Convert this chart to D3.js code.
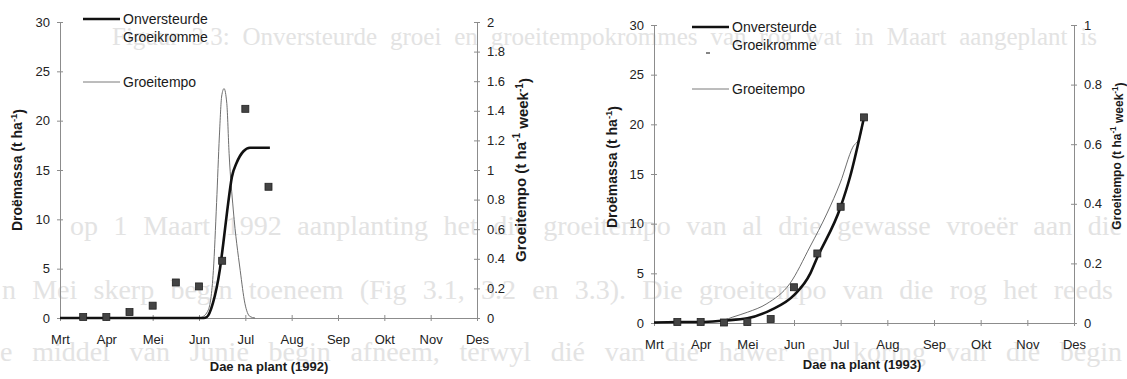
<!DOCTYPE html>
<html>
<head>
<meta charset="utf-8">
<script src="https://cdn.jsdelivr.net/npm/d3@7"></script>
<style>
  body { margin: 0; background: #fff; }
  svg { display: block; font-family: "Liberation Sans", Arial, sans-serif; }
</style>
</head>
<body>
<div id="chart"></div>
<script>
const months = ['Mrt', 'Apr', 'Mei', 'Jun', 'Jul', 'Aug', 'Sep', 'Okt', 'Nov', 'Des'];
const massTicks = [0, 5, 10, 15, 20, 25, 30];
const rateTicks1992 = [0, 0.2, 0.4, 0.6, 0.8, 1, 1.2, 1.4, 1.6, 1.8, 2];
const rateTicks1993 = [0, 0.2, 0.4, 0.6, 0.8, 1];

// [month index from Mrt, value]
const measured1992 = [[0.5, 0.1], [1, 0.1], [1.5, 0.6], [2, 1.25], [2.5, 3.6], [3, 3.2], [3.5, 5.8], [4, 21.2], [4.5, 13.3]];
const curve1992 = [[0, 0], [3.1, 0], [3.17, 0.1], [3.3, 1.5], [3.45, 4.9], [3.52, 7.4], [3.61, 10.9], [3.71, 14.3],
  [3.81, 15.7], [3.96, 16.9], [4.1, 17.25], [4.53, 17.25]];
const rate1992 = [[3.0, 0], [3.06, 0.005], [3.2, 0.054], [3.31, 0.32], [3.38, 0.78], [3.44, 1.23], [3.49, 1.5],
  [3.54, 1.55], [3.6, 1.45], [3.65, 1.11], [3.74, 0.73], [3.89, 0.32], [3.99, 0.1], [4.1, 0.01], [4.21, 0]];

const measured1993 = [[0.5, 0.1], [1, 0.1], [1.5, 0.05], [2, 0.1], [2.5, 0.4], [3, 3.6], [3.5, 7.0], [4, 11.7], [4.5, 20.7]];
const curve1993 = [[0, 0.05], [0.5, 0.1], [1, 0.1], [1.5, 0.25], [2, 0.47], [2.5, 1.3], [3, 2.8], [3.35, 5.0],
  [3.47, 6.3], [4, 11.7], [4.2, 14.7], [4.5, 20.7]];
const rate1993 = [[0, 0], [1, 0.003], [1.5, 0.01], [1.69, 0.02], [2, 0.036], [2.42, 0.065], [2.91, 0.132],
  [3.34, 0.255], [3.71, 0.369], [3.99, 0.47], [4.26, 0.59], [4.41, 0.624], [4.5, 0.69]];

// faint text showing through from the other side of the scanned page
const bleedText = [
  'Figuur 3.3: Onversteurde groei en groeitempokrommes van rog wat in Maart aangeplant is',
  'op 1 Maart 1992 aanplanting het die groeitempo van al drie gewasse vroeër aan die',
  'n Mei skerp begin toeneem (Fig 3.1, 3.2 en 3.3).  Die groeitempo van die rog het reeds',
  'e middel van Junie begin afneem, terwyl dié van die hawer en koring van die begin'
];
// [x, baseline, line width, font size]
const bleedLayout = [[112, 45, 985, 25], [70, 235, 1052, 28], [2, 299, 1120, 28], [0, 361, 1122, 28]];

const width = 1127, height = 379;

const svg = d3.select('#chart')
  .append('svg')
  .attr('width', width)
  .attr('height', height)
  .attr('viewBox', [0, 0, width, height]);

// justified lines: spread the words out to the line width
svg.selectAll('text.bleed')
  .data(bleedText)
  .join('text')
    .attr('class', 'bleed')
    .attr('x', (d, i) => bleedLayout[i][0])
    .attr('y', (d, i) => bleedLayout[i][1])
    .attr('font-family', '"Liberation Serif", "Times New Roman", serif')
    .attr('font-size', (d, i) => bleedLayout[i][3])
    .attr('fill', '#e3e3e3')
    .text(d => d)
    .each(function (d, i) {
      const natural = this.getComputedTextLength();
      const gaps = d.split(' ').length - 1;
      const extra = Math.max(0, (bleedLayout[i][2] - natural) / gaps);
      d3.select(this).attr('word-spacing', extra);
    });

const panels = [
  {
    year: 1992, measured: measured1992, curve: curve1992, rate: rate1992,
    rateMax: 2, rateTicks: rateTicks1992,
    left: 60, right: 477, top: 22, bottom: 318,
    legendX: 83, legendY: 19, tempoY: 82,
    leftTitleX: 18, leftTitleY: 170, leftTitleSize: 14,
    rightTitleX: 522, rightTitleY: 170, rightTitleSize: 15,
    xTitleX: 269, xTitleY: 371
  },
  {
    year: 1993, measured: measured1993, curve: curve1993, rate: rate1993,
    rateMax: 1, rateTicks: rateTicks1993,
    left: 654, right: 1074, top: 25, bottom: 323,
    legendX: 692, legendY: 27, tempoY: 89,
    leftTitleX: 613, leftTitleY: 167, leftTitleSize: 14,
    rightTitleX: 1118, rightTitleY: 156, rightTitleSize: 12,
    xTitleX: 862, xTitleY: 369, dash: true
  }
];

const axisGrey = '#8c8c8c';

function styleAxis(g) {
  g.attr('font-size', 13).attr('font-family', '"Liberation Sans", Arial, sans-serif');
  g.select('.domain').attr('stroke', axisGrey);
  g.selectAll('.tick line').attr('stroke', axisGrey);
  g.selectAll('.tick text').attr('fill', '#222');
}

function unitTitle(g, x, y, size, label, parts) {
  const t = g.append('text')
    .attr('transform', `translate(${x}, ${y}) rotate(-90)`)
    .attr('text-anchor', 'middle')
    .attr('dominant-baseline', 'middle')
    .attr('font-weight', 'bold')
    .attr('font-size', size)
    .attr('fill', '#1a1a1a');
  t.append('tspan').text(label);
  parts.forEach(p => {
    t.append('tspan').attr('dy', '-0.45em').attr('font-size', size * 0.68).text(p[0]);
    t.append('tspan').attr('dy', '0.45em').text(p[1]);
  });
}

function drawPanel(p) {
  const g = svg.append('g');

  const x = d3.scaleLinear().domain([0, 9]).range([p.left, p.right]);
  const yMass = d3.scaleLinear().domain([0, 30]).range([p.bottom, p.top]);
  const yRate = d3.scaleLinear().domain([0, p.rateMax]).range([p.bottom, p.top]);

  const xAxis = d3.axisBottom(x)
    .tickValues(d3.range(months.length))
    .tickFormat(i => months[i])
    .tickSize(3).tickSizeOuter(0).tickPadding(14);
  const yAxis = d3.axisLeft(yMass).tickValues(massTicks).tickSize(3).tickSizeOuter(0).tickPadding(7);
  const rAxis = d3.axisRight(yRate).tickValues(p.rateTicks).tickFormat(d3.format('~g'))
    .tickSize(3).tickSizeOuter(0).tickPadding(7);

  g.append('g').attr('transform', `translate(0, ${p.bottom})`).call(xAxis)
    .call(styleAxis)
    .call(a => a.selectAll('.tick line').attr('y1', -3));
  g.append('g').attr('transform', `translate(${p.left}, 0)`).call(yAxis)
    .call(styleAxis)
    .call(a => a.selectAll('.tick line').attr('x1', 3));
  g.append('g').attr('transform', `translate(${p.right}, 0)`).call(rAxis)
    .call(styleAxis)
    .call(a => a.selectAll('.tick line').attr('x1', -3));

  // axis titles
  unitTitle(g, p.leftTitleX, p.leftTitleY, p.leftTitleSize, 'Droëmassa (t ha', [['-1', ')']]);
  unitTitle(g, p.rightTitleX, p.rightTitleY, p.rightTitleSize, 'Groeitempo (t ha', [['-1', ' week'], ['-1', ')']]);

  g.append('text')
    .attr('x', p.xTitleX)
    .attr('y', p.xTitleY)
    .attr('text-anchor', 'middle')
    .attr('font-weight', 'bold')
    .attr('font-size', 13)
    .attr('fill', '#1a1a1a')
    .text(`Dae na plant (${p.year})`);

  // growth rate (thin) and fitted curve (thick)
  const rateLine = d3.line().x(d => x(d[0])).y(d => yRate(d[1])).curve(d3.curveMonotoneX);
  const massLine = d3.line().x(d => x(d[0])).y(d => yMass(d[1])).curve(d3.curveMonotoneX);

  g.append('path')
    .attr('d', rateLine(p.rate))
    .attr('fill', 'none')
    .attr('stroke', '#6e6e6e')
    .attr('stroke-width', 1);

  g.append('path')
    .attr('d', massLine(p.curve))
    .attr('fill', 'none')
    .attr('stroke', '#111')
    .attr('stroke-width', 2.6);

  g.selectAll('rect.obs')
    .data(p.measured)
    .join('rect')
      .attr('class', 'obs')
      .attr('x', d => x(d[0]) - 3.5)
      .attr('y', d => yMass(d[1]) - 3.5)
      .attr('width', 7)
      .attr('height', 7)
      .attr('fill', '#444')
      .attr('stroke', '#222')
      .attr('stroke-width', 0.8);

  // legend
  const lg = g.append('g').attr('font-size', 14).attr('fill', '#1a1a1a');
  lg.append('line')
    .attr('x1', p.legendX).attr('x2', p.legendX + 37)
    .attr('y1', p.legendY).attr('y2', p.legendY)
    .attr('stroke', '#111').attr('stroke-width', 2.6);
  lg.append('text').attr('x', p.legendX + 40).attr('y', p.legendY + 5).text('Onversteurde');
  lg.append('text').attr('x', p.legendX + 40).attr('y', p.legendY + 23).text('Groeikromme');
  lg.append('line')
    .attr('x1', p.legendX).attr('x2', p.legendX + 37)
    .attr('y1', p.tempoY).attr('y2', p.tempoY)
    .attr('stroke', '#7a7a7a').attr('stroke-width', 1);
  lg.append('text').attr('x', p.legendX + 40).attr('y', p.tempoY + 5).text('Groeitempo');
  if (p.dash) {
    lg.append('line')
      .attr('x1', p.legendX + 14).attr('x2', p.legendX + 18)
      .attr('y1', p.legendY + 26).attr('y2', p.legendY + 26)
      .attr('stroke', '#333').attr('stroke-width', 1.2);
  }
}

panels.forEach(drawPanel);
</script>
</body>
</html>
